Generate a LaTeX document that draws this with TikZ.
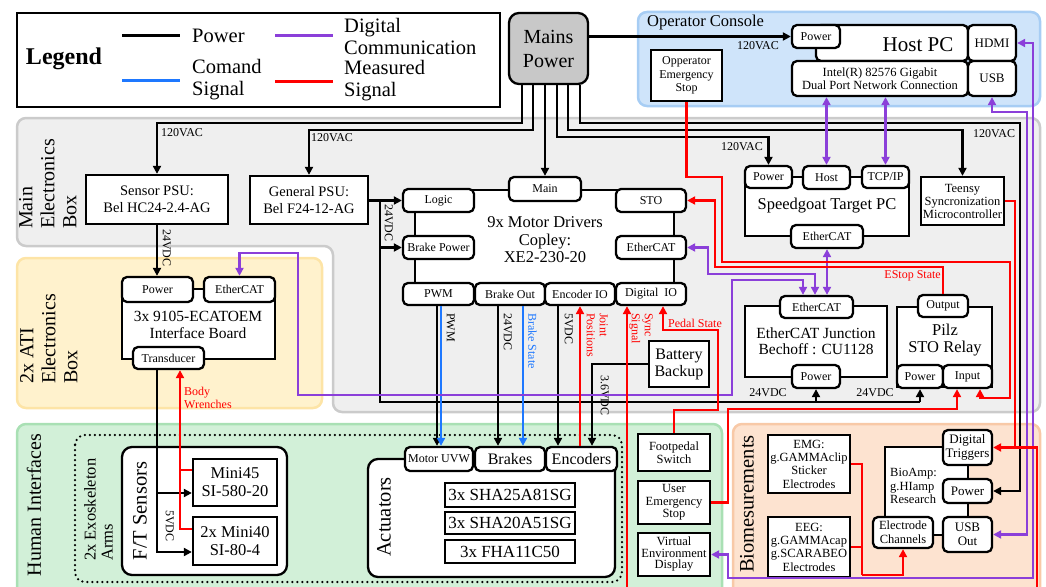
\documentclass[tikz,border=0pt]{standalone}
\usepackage{fontspec}
\setmainfont{Liberation Serif}
\usetikzlibrary{positioning, arrows.meta}

\definecolor{cmdblue}{HTML}{1E78FF}
\definecolor{digpurple}{HTML}{8B3FD9}
\definecolor{measred}{HTML}{FF0000}
\definecolor{mainsgray}{HTML}{C8C8C8}
\definecolor{opfill}{HTML}{CFE4FA}
\definecolor{opedge}{HTML}{A7CDF4}
\definecolor{mebfill}{HTML}{EFEFEF}
\definecolor{mebedge}{HTML}{CBCBCB}
\definecolor{atifill}{HTML}{FFF2CD}
\definecolor{atiedge}{HTML}{FDE4A6}
\definecolor{hifill}{HTML}{D2F0D8}
\definecolor{hiedge}{HTML}{A9E0B4}
\definecolor{biofill}{HTML}{FDE3D0}
\definecolor{bioedge}{HTML}{F8C9A7}

\newcommand{\fsz}[2]{\fontsize{#1}{#2}\selectfont}

\tikzstyle{region} = [line width=2.5pt, rounded corners=9pt]
\tikzstyle{block} = [rectangle, draw, line width=2.3pt, fill=white, align=center, inner sep=0pt, font=\fsz{12.5}{13.5}]
\tikzstyle{port} = [block, rounded corners=5pt, font=\fsz{12}{13}]
\tikzstyle{wire} = [line width=2.1pt, >={Triangle[length=8pt,width=8pt]}]
\tikzstyle{lbl} = [inner sep=0pt, font=\fsz{12}{13}]

\begin{document}
\begin{tikzpicture}[x=1pt, y=-1pt]
\useasboundingbox (0,0) rectangle (1046,586);

% grouping areas
\draw[region, draw=opedge, fill=opfill] (638,12) rectangle (1040,106);
\draw[region, draw=mebedge, fill=mebfill] (17,118) -- (1040,118) -- (1040,412) -- (333,412) -- (333,246) -- (17,246) -- cycle;
\draw[region, draw=atiedge, fill=atifill] (17,258) rectangle (322,408);
\draw[region, draw=hiedge, fill=hifill] (17,424) rectangle (722,610);
\draw[region, draw=bioedge, fill=biofill] (733,424) rectangle (1040,610);
\draw[line width=2.5pt, dash pattern=on 0pt off 5pt, line cap=round, rounded corners=10pt] (75,435) rectangle (622,582);

\node[rotate=90, anchor=north west, align=left, inner sep=0pt, font=\fsz{20}{22}] (meblabel) at (19,229) {Main\\Electronics\\Box};
\node[rotate=90, anchor=north west, align=left, inner sep=0pt, font=\fsz{20}{22}] (atilabel) at (20,384) {2x ATI\\Electronics\\Box};
\node[rotate=90, inner sep=0pt, font=\fsz{20}{22}] (hilabel) at (34,505) {Human Interfaces};
\node[rotate=90, anchor=north west, align=left, inner sep=0pt, font=\fsz{16.5}{17}] (exolabel) at (84,561) {2x Exoskeleton\\Arms};
\node[rotate=90, inner sep=0pt, font=\fsz{20.5}{22}] (biolabel) at (747,504) {Biomesurements};
\node[anchor=west, inner sep=0pt, font=\fsz{16.5}{18}] (oplabel) at (647,23) {Operator Console};

% legend
\node[block, minimum width=483, minimum height=94] (legend) at (258.5,60) {};
\node[inner sep=0pt, font=\bfseries\fsz{24}{26}] (legtitle) at (64,59) {Legend};
\draw[line width=3pt] (122,36) -- (180,36);
\draw[line width=3pt, cmdblue] (122,80) -- (180,80);
\draw[line width=3pt, digpurple] (275,36) -- (333,36);
\draw[line width=3pt, measred] (275,81) -- (333,81);
\node[anchor=west, inner sep=0pt, font=\fsz{20.5}{22}] (legpow) at (192,36) {Power};
\node[anchor=west, align=left, inner sep=0pt, font=\fsz{20.5}{22}] (legcmd) at (192,80) {Comand\\Signal};
\node[anchor=west, align=left, inner sep=0pt, font=\fsz{20.5}{22}] (legdig) at (344,36) {Digital\\Communication};
\node[anchor=west, align=left, inner sep=0pt, font=\fsz{20.5}{22}] (legmeas) at (344,81) {Measured\\Signal};

% mains
\node[block, rounded corners=10pt, fill=mainsgray, minimum width=79, minimum height=71, font=\fsz{20}{24}] (mains) at (548.5,48.5) {Mains\\Power};

% operator console
\node[block, minimum width=71, minimum height=51, font=\fsz{12}{13.7}] (opstop) at (686.5,75.5) {Opperator\\Emergency\\Stop};
\node[block, rounded corners=5pt, minimum width=152, minimum height=36] (hpbody) at (892,43) {};
\node[inner sep=0pt, font=\fsz{21}{23}] (hptext) at (918,45) {Host PC};
\node[port, minimum width=48, minimum height=23] (hppow) at (816,36.5) {Power};
\node[port, minimum width=176, minimum height=35, font=\fsz{12.5}{13.5}] (intel) at (880,78.5) {Intel(R) 82576 Gigabit\\Dual Port Network Connection};
\node[port, minimum width=48, minimum height=36, font=\fsz{13}{14}] (hdmi) at (992,43) {HDMI};
\node[port, minimum width=48, minimum height=35, font=\fsz{13}{14}] (usb) at (992,78.5) {USB};

% main electronics box
\node[block, minimum width=142, minimum height=49, font=\fsz{14.5}{17}] (senspsu) at (157,199.5) {Sensor PSU:\\Bel HC24-2.4-AG};
\node[block, minimum width=118, minimum height=48, font=\fsz{14.5}{17}] (genpsu) at (309,200) {General PSU:\\Bel F24-12-AG};

\node[block, minimum width=259, minimum height=105] (mdbody) at (544.5,242.5) {};
\node[inner sep=0pt, align=center, font=\fsz{16.5}{17.5}] (mdtext) at (545,240) {9x Motor Drivers\\Copley:\\XE2-230-20};
\node[port, minimum width=72, minimum height=24] (mdmain) at (545,189) {Main};
\node[port, minimum width=71, minimum height=23] (mdlogic) at (438.5,200.5) {Logic};
\node[port, minimum width=70, minimum height=23] (mdsto) at (651,200.5) {STO};
\node[port, minimum width=71, minimum height=23] (mdbrk) at (438.5,247.5) {Brake Power};
\node[port, minimum width=70, minimum height=23] (mdecat) at (651,247.5) {EtherCAT};
\node[port, minimum width=71, minimum height=22] (mdpwm) at (438.5,294) {PWM};
\node[port, minimum width=70, minimum height=22] (mdbrko) at (510,294) {Brake Out};
\node[port, minimum width=70, minimum height=22] (mdenc) at (580,294) {Encoder IO};
\node[port, minimum width=70, minimum height=22] (mddio) at (651,294) {Digital\ \ IO};

\node[block, minimum width=164, minimum height=59] (sgbody) at (827,206.5) {};
\node[inner sep=0pt, font=\fsz{16.5}{18}] (sgtext) at (827,206) {Speedgoat Target PC};
\node[port, minimum width=47, minimum height=22] (sgpow) at (768.5,177) {Power};
\node[port, minimum width=47, minimum height=23] (sghost) at (826.5,177.5) {Host};
\node[port, minimum width=47, minimum height=22] (sgtcp) at (885.5,177) {TCP/IP};
\node[port, minimum width=72, minimum height=23] (sgecat) at (827,236.5) {EtherCAT};

\node[block, minimum width=83, minimum height=48, font=\fsz{12.5}{13}] (teensy) at (962.5,201) {Teensy\\Syncronization\\Microcontroller};

\node[block, minimum width=142, minimum height=71] (ejbody) at (816,341.5) {};
\node[inner sep=0pt, align=center, font=\fsz{15.5}{16.5}] (ejtext) at (816,341) {EtherCAT Junction\\Bechoff : CU1128};
\node[port, minimum width=73, minimum height=22] (ejecat) at (816.5,307) {EtherCAT};
\node[port, minimum width=48, minimum height=23] (ejpow) at (816,376.5) {Power};

\node[block, minimum width=95, minimum height=80] (pzbody) at (944.5,347) {};
\node[inner sep=0pt, align=center, font=\fsz{16.5}{17}] (pztext) at (945,340) {Pilz\\STO Relay};
\node[port, minimum width=50, minimum height=22] (pzout) at (943,306) {Output};
\node[port, minimum width=46, minimum height=23] (pzpow) at (920,376.5) {Power};
\node[port, minimum width=49, minimum height=23] (pzin) at (967.5,376.5) {Input};

\node[block, minimum width=60, minimum height=46, font=\fsz{16}{17}] (batt) at (679,364) {Battery\\Backup};

% ATI box
\node[block, minimum width=153, minimum height=70] (atibody) at (198.5,324) {};
\node[inner sep=0pt, align=center, font=\fsz{15.5}{16.5}] (atitext) at (198,325) {3x 9105-ECATOEM\\Interface Board};
\node[port, minimum width=71, minimum height=25] (atipow) at (157.5,289.5) {Power};
\node[port, minimum width=71, minimum height=25] (atiecat) at (239.5,289.5) {EtherCAT};
\node[port, minimum width=71, minimum height=22] (atitr) at (168.5,358) {Transducer};

% human interfaces
\node[block, rounded corners=10pt, minimum width=165, minimum height=128] (ftbox) at (204.5,511) {};
\node[rotate=90, inner sep=0pt, font=\fsz{20.5}{22}] (fttext) at (140,511) {F/T Sensors};
\node[block, minimum width=84, minimum height=47, font=\fsz{16.5}{18}] (m45) at (235,482.5) {Mini45\\SI-580-20};
\node[block, minimum width=84, minimum height=48, font=\fsz{16.5}{18}] (m40) at (235,541) {2x Mini40\\SI-80-4};

\node[block, rounded corners=10pt, minimum width=247, minimum height=118] (acbody) at (491.5,518) {};
\node[rotate=90, inner sep=0pt, font=\fsz{20.5}{22}] (actext) at (384,517) {Actuators};
\node[port, minimum width=68, minimum height=24] (acmot) at (439,459) {Motor UVW};
\node[port, minimum width=70, minimum height=24, font=\fsz{16}{17}] (acbrk) at (510,459) {Brakes};
\node[port, minimum width=71, minimum height=24, font=\fsz{16}{17}] (acenc) at (581.5,459) {Encoders};
\node[block, minimum width=130, minimum height=24, font=\fsz{17}{18}] (sha25) at (510,495) {3x SHA25A81SG};
\node[block, minimum width=130, minimum height=22, font=\fsz{17}{18}] (sha20) at (510,523) {3x SHA20A51SG};
\node[block, minimum width=130, minimum height=23, font=\fsz{17}{18}] (fha) at (510,551.5) {3x FHA11C50};

\node[block, minimum width=72, minimum height=37, font=\fsz{12.5}{13}] (foot) at (674,452.5) {Footpedal\\Switch};
\node[block, minimum width=72, minimum height=43, font=\fsz{12.5}{12.5}] (uestop) at (674,502.5) {User\\Emergency\\Stop};
\node[block, minimum width=72, minimum height=43, font=\fsz{12.5}{11.5}] (ved) at (674,554.5) {Virtual\\Environment\\Display};

% biomeasurements
\node[block, minimum width=82, minimum height=58, font=\fsz{12.5}{13.3}] (emg) at (809,464) {EMG:\\g.GAMMAclip\\Sticker\\Electrodes};
\node[block, minimum width=82, minimum height=60, font=\fsz{12.5}{13.3}] (eeg) at (809,547) {EEG:\\g.GAMMAcap\\g.SCARABEO\\Electrodes};
\node[block, minimum width=83, minimum height=88] (babody) at (926.5,491) {};
\node[anchor=west, align=left, inner sep=0pt, font=\fsz{12.5}{13.5}] (batext) at (890,486) {BioAmp:\\g.HIamp\\Research};
\node[port, minimum width=49, minimum height=35, font=\fsz{13}{14}] (batrig) at (967.5,447.5) {Digital\\Triggers};
\node[port, minimum width=49, minimum height=24, font=\fsz{13}{14}] (bapow) at (967.5,491) {Power};
\node[port, minimum width=49, minimum height=35, font=\fsz{13}{14}] (baout) at (967.5,534.5) {USB\\Out};
\node[port, minimum width=60, minimum height=31, font=\fsz{12.5}{14}] (baelec) at (903,532.5) {Electrode\\Channels};

% power
\draw[wire, ->] (522,0 |- mains.south) -- (522,123) -| (senspsu.north);
\draw[wire, ->] (533,0 |- mains.south) -- (533,130) -| (genpsu.north);
\draw[wire, ->] (545,0 |- mains.south) -- (mdmain.north);
\draw[wire, ->] (557,0 |- mains.south) -- (557,137) -| (sgpow.north);
\draw[wire, ->] (568,0 |- mains.south) -- (568,130) -| (teensy.north);
\draw[wire, ->] (580,0 |- mains.south) -- (580,123) -- (1020,123) |- (bapow.east);
\draw[wire, ->] (mains.east |- hppow.west) -- (hppow.west);
\node[lbl, anchor=west] (vac1) at (161,133) {120VAC};
\node[lbl, anchor=west] (vac2) at (311,138) {120VAC};
\node[lbl, anchor=east] (vac3) at (763,147) {120VAC};
\node[lbl, anchor=west] (vac4) at (973,134) {120VAC};
\node[lbl, anchor=east] (vac5) at (779,46) {120VAC};

\draw[wire, ->] (genpsu.east |- mdlogic.west) -- (mdlogic.west);
\draw[wire, ->] (380,0 |- mdbrk.west) -- (mdbrk.west);
\draw[wire] (380,0 |- mdlogic.west) -- (380,402) -- (920,402);
\draw[wire, ->] (ejpow.south |- 0,402) -- (ejpow.south);
\draw[wire, ->] (pzpow.south |- 0,402) -- (pzpow.south);
\node[lbl, rotate=-90, anchor=north west] (vdc1) at (393,204) {24VDC};
\node[lbl, anchor=center] (vdc2) at (768,393) {24VDC};
\node[lbl, anchor=center] (vdc3) at (875,393) {24VDC};

\draw[wire, ->] (senspsu.south) -- (157,0 |- atipow.north);
\node[lbl, rotate=-90, anchor=north west] (vdc4) at (171,229) {24VDC};
\draw[wire, ->] (157,0 |- atitr.south) |- (m45.west |- 0,493);
\draw[wire, ->] (157,493) |- (m40.west |- 0,552);
\node[lbl, rotate=-90, anchor=north west] (vdc5) at (174,510) {5VDC};

\draw[wire, ->] (437,0 |- mdpwm.south) -- (437,0 |- acmot.north);
\draw[wire, cmdblue, ->] (441,0 |- mdpwm.south) -- (441,0 |- acmot.north);
\node[lbl, rotate=-90, anchor=north west] (pwmlbl) at (455,313) {PWM};
\draw[wire, ->] (498,0 |- mdbrko.south) -- (498,0 |- acbrk.north);
\node[lbl, rotate=-90, anchor=north west] (vdc6) at (512,313) {24VDC};
\draw[wire, cmdblue, ->] (523,0 |- mdbrko.south) -- (523,0 |- acbrk.north);
\node[lbl, rotate=-90, anchor=north west, text=cmdblue] (brklbl) at (537,313) {Brake State};
\draw[wire, ->] (558,0 |- mdenc.south) -- (558,0 |- acenc.north);
\node[lbl, rotate=-90, anchor=north west] (vdc7) at (573,313) {5VDC};
\draw[wire, ->] (batt.west) -| (592,0 |- acenc.north);
\node[lbl, rotate=-90, anchor=north west] (vdc8) at (609,375) {3.6VDC};

% digital communication
\draw[wire, digpurple, <->] (sghost.north) -- (sghost.north |- intel.south);
\draw[wire, digpurple, <->] (sgtcp.north) -- (sgtcp.north |- intel.south);
\draw[wire, digpurple, <->] (sgecat.south) -- (sgecat.south |- ejecat.north);
\draw[wire, digpurple, <->] (mdecat.east) -| (708,274) -| (815,0 |- ejecat.north);
\draw[wire, digpurple, <->] (atiecat.north) |- (298,253) |- (732,395) |- (803,280) -- (803,0 |- ejecat.north);
\draw[wire, digpurple, <->] (usb.south) |- (1027,112) |- (baout.east);
\draw[wire, digpurple, <->] (hdmi.east) -| (1033,578) -| (728,0 |- ved.east) -- (ved.east);

% measured signals
\draw[wire, measred, ->] (opstop.south) |- (722,177) |- (1010,262) |- (980,398) -- (980,0 |- pzin.south);
\draw[wire, measred, ->] (pzout.north) |- (715,267) |- (mdsto.east);
\node[lbl, anchor=north east, text=measred] (estlbl) at (941,270) {EStop State};
\draw[wire, measred, ->] (uestop.east) -| (728,409) -| (957,0 |- pzin.south);
\draw[wire, measred, ->] (foot.north) |- (718,410) |- (663,330) -- (663,0 |- mddio.south);
\node[lbl, anchor=south west, text=measred] (pedlbl) at (668,328) {Pedal State};
\draw[wire, measred, ->] (teensy.east) -| (1015,0 |- batrig.east) -- (batrig.east);
\draw[wire, measred, ->] (1015,0 |- batrig.east) -| (1037,594) -| (627,0 |- mddio.south);
\node[lbl, rotate=-90, anchor=north west, align=left, text=measred] (synclbl) at (653,313) {Sync\\Signal};
\draw[wire, measred, ->] (580,0 |- acenc.north) -- (580,0 |- mdenc.south);
\node[lbl, rotate=-90, anchor=north west, align=left, text=measred] (jntlbl) at (608,313) {Joint\\Positions};
\draw[wire, measred, ->] (m40.west |- 0,529) -| (180,0 |- atitr.south);
\draw[wire, measred] (m45.west |- 0,470) -- (180,470);
\node[lbl, anchor=west, align=left, text=measred] (bwlbl) at (184,398) {Body\\Wrenches};
\draw[wire, measred] (emg.east) -| (862,575);
\draw[wire, measred] (eeg.east) -- (862,0 |- eeg.east);
\draw[wire, measred, ->] (862,575) -| (baelec.south);
\end{tikzpicture}
\end{document}
